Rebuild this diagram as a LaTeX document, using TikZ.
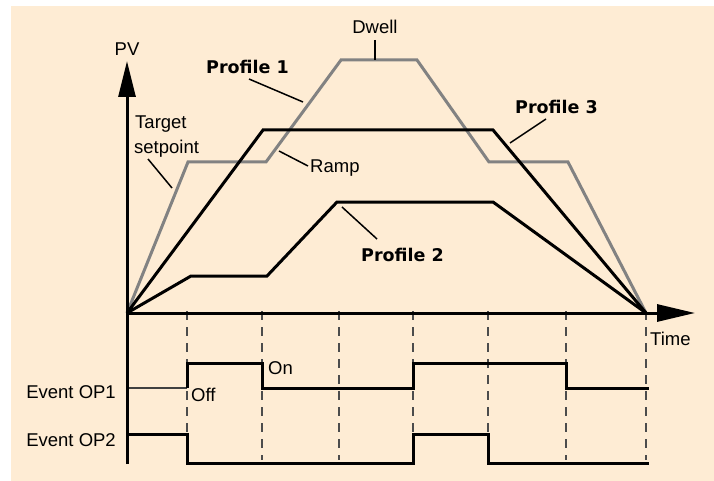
\documentclass[tikz,border=0pt]{standalone}
\usepackage{fontspec}
\setmainfont{Liberation Sans}
\newfontfamily\vb{DejaVu Sans}
\usetikzlibrary{arrows.meta}
\definecolor{bg}{HTML}{FEECD4}
\definecolor{pgray}{RGB}{130,130,130}
\begin{document}
\begin{tikzpicture}[x=1pt,y=-1pt,
  lbl/.style={inner sep=0pt,font=\fontsize{18.5}{20}\selectfont},
  blbl/.style={inner sep=0pt,font=\fontsize{17.5}{20}\selectfont\vb\bfseries},
  prof/.style={line width=3pt,line join=miter},
  tgt/.style={line width=3pt,pgray,line join=miter},
  axis/.style={line width=3pt},
  leader/.style={line width=1.5pt},
  grid/.style={line width=1.4pt,black!70,dash pattern=on 9pt off 7pt},
  evt/.style={line width=3pt,line join=miter}]
\useasboundingbox (0,0) rectangle (714,481);
\fill[white] (0,0) rectangle (714,481);
\fill[bg] (11,6) rectangle (714,481);
% coordinates
\coordinate (O) at (127,313);
\coordinate (yb) at (127,464);
\coordinate (yt) at (127,61);
\coordinate (xe) at (695,313);
\coordinate (E) at (646,313);
% dashed grid
\foreach \x/\n in {187/a,262/b,339/c,413/d,488/e,566/f,646/g}{
  \coordinate (g\n t) at (\x,311);
  \coordinate (g\n b) at (\x,460);
  \draw[grid] (g\n t) -- (g\n b);
}
% target setpoint (gray)
\coordinate (t1) at (188,162);
\coordinate (t2) at (266,162);
\coordinate (t3) at (341,60);
\coordinate (t4) at (417,60);
\coordinate (t5) at (489,162);
\coordinate (t6) at (568,162);
\draw[tgt] (O) -- (t1) -- (t2) -- (t3) -- (t4) -- (t5) -- (t6) -- (E);
% profile 1
\coordinate (p1) at (263,130);
\coordinate (p2) at (493,130);
\draw[prof] (O) -- (p1) -- (p2) -- (E);
% profile 2
\coordinate (q1) at (191,276);
\coordinate (q2) at (267,276);
\coordinate (q3) at (337,202);
\coordinate (q4) at (493,202);
\draw[prof] (O) -- (q1) -- (q2) -- (q3) -- (q4) -- (E);
% axes
\draw[axis,-{Triangle[length=36pt,width=17pt]}] (yb) -- (yt);
\draw[axis,-{Triangle[length=38pt,width=17pt]}] (O) -- (xe);
% events
\coordinate (e1s) at (129,388);
\draw[line width=2pt,black!75] (e1s) -- (187,388);
\draw[evt] (187,388) -- (187,363) -- (262,363) -- (262,388) -- (413,388) -- (413,363) -- (566,363) -- (566,388) -- (649,388);
\draw[evt] (129,434) -- (187,434) -- (187,463) -- (413,463) -- (413,434) -- (488,434) -- (488,463) -- (649,463);
% labels
\node[lbl,anchor=base] (pv) at (127,56) {PV};
\node[lbl,anchor=base west] (time) at (650,345) {Time};
\node[lbl,anchor=base east] (op1) at (116,398) {Event OP1};
\node[lbl,anchor=base east] (op2) at (116,446) {Event OP2};
\node[lbl,anchor=base west] (off) at (191,401) {Off};
\node[lbl,anchor=base west] (on) at (268,374) {On};
\node[lbl,anchor=base] (dwell) at (375,34) {Dwell};
\node[lbl,anchor=base west] (target) at (135,129) {Target};
\node[lbl,anchor=base west] (setp) at (134,154) {setpoint};
\node[lbl,anchor=base west] (ramp) at (310,173) {Ramp};
\node[blbl,anchor=base west] (pr1) at (206,74) {Profile 1};
\node[blbl,anchor=base west] (pr2) at (361,261) {Profile 2};
\node[blbl,anchor=base west] (pr3) at (515,114) {Profile 3};
% leaders
\coordinate (ld1) at (375,40);
\coordinate (ld2) at (375,60);
\draw[leader] (ld1) -- (ld2);
\coordinate (lp1a) at (249,79);
\coordinate (lp1b) at (303,102);
\draw[leader] (lp1a) -- (lp1b);
\coordinate (lta) at (148,159);
\coordinate (ltb) at (172,188);
\draw[leader] (lta) -- (ltb);
\coordinate (lra) at (279,151);
\coordinate (lrb) at (308,166);
\draw[leader] (lra) -- (lrb);
\coordinate (lp3a) at (546,119);
\coordinate (lp3b) at (510,143);
\draw[leader] (lp3a) -- (lp3b);
\coordinate (lp2a) at (342,207);
\coordinate (lp2b) at (377,239);
\draw[leader] (lp2a) -- (lp2b);
\end{tikzpicture}
\end{document}
